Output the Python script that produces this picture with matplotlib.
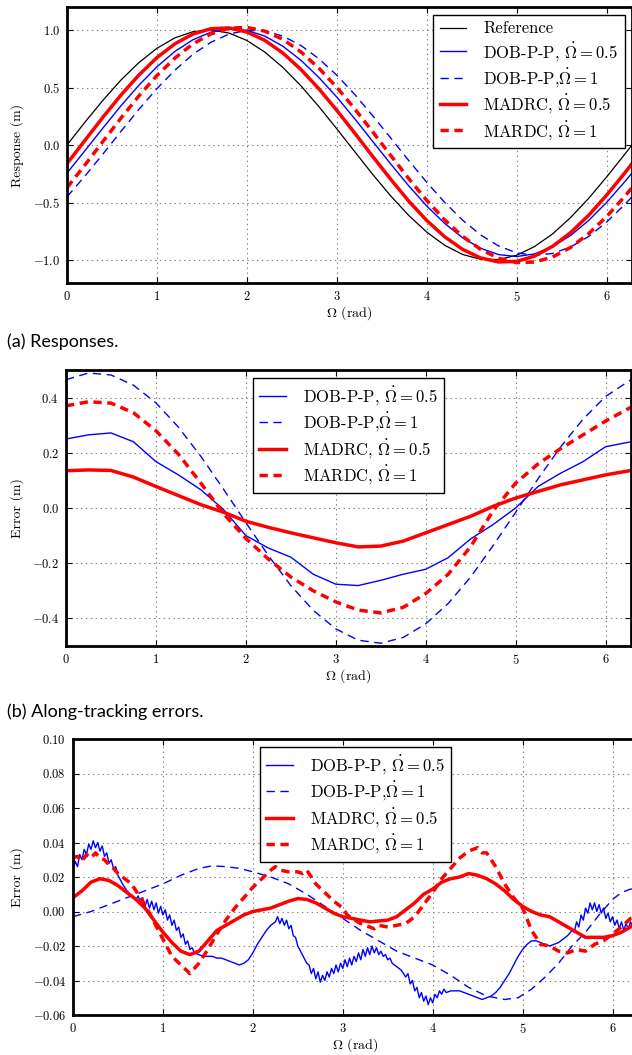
import numpy as np
import matplotlib
matplotlib.use("Agg")
import matplotlib.pyplot as plt

plt.rcParams["font.family"] = "serif"
plt.rcParams["font.serif"] = ["cmr10"]
plt.rcParams["mathtext.fontset"] = "cm"
plt.rcParams["axes.formatter.use_mathtext"] = True
plt.rcParams["lines.scale_dashes"] = False

# ---- (a) responses, sampled every 0.2 rad ----
omega_a = [0.0, 0.2, 0.4, 0.6, 0.8, 1.0, 1.2, 1.4, 1.6, 1.8, 2.0, 2.2, 2.4, 2.6, 2.8,
           3.0, 3.2, 3.4, 3.6, 3.8, 4.0, 4.2, 4.4, 4.6, 4.8, 5.0, 5.2, 5.4, 5.6, 5.8,
           6.0, 6.2, 6.283]
resp_ref = [0.000, 0.199, 0.389, 0.565, 0.717, 0.841, 0.932, 0.985, 1.000, 0.974,
            0.909, 0.808, 0.675, 0.516, 0.335, 0.141, -0.058, -0.256, -0.443, -0.612,
            -0.757, -0.872, -0.952, -0.994, -0.996, -0.959, -0.883, -0.773, -0.631,
            -0.465, -0.279, -0.083, 0.000]
resp_dob05 = [-0.244, -0.049, 0.148, 0.341, 0.520, 0.680, 0.814, 0.915, 0.981, 1.009,
              0.997, 0.947, 0.859, 0.738, 0.588, 0.417, 0.228, 0.031, -0.165, -0.355,
              -0.530, -0.682, -0.807, -0.898, -0.953, -0.970, -0.947, -0.885, -0.787,
              -0.657, -0.500, -0.322, -0.244]
resp_dob1 = [-0.450, -0.270, -0.078, 0.118, 0.310, 0.490, 0.651, 0.788, 0.893, 0.964,
             0.998, 0.992, 0.947, 0.866, 0.751, 0.607, 0.439, 0.254, 0.061, -0.135,
             -0.324, -0.499, -0.654, -0.782, -0.878, -0.938, -0.960, -0.943, -0.887,
             -0.796, -0.671, -0.520, -0.450]
resp_madrc05 = [-0.162, 0.041, 0.242, 0.434, 0.609, 0.760, 0.880, 0.965, 1.011, 1.018,
                0.983, 0.910, 0.800, 0.658, 0.490, 0.302, 0.103, -0.100, -0.298, -0.488,
                -0.656, -0.798, -0.908, -0.982, -1.017, -1.012, -0.966, -0.881, -0.762,
                -0.612, -0.437, -0.246, -0.162]
resp_madrc1 = [-0.371, -0.173, 0.031, 0.234, 0.427, 0.604, 0.756, 0.879, 0.966, 1.015,
               1.023, 0.990, 0.919, 0.810, 0.669, 0.502, 0.314, 0.114, -0.091, -0.292,
               -0.481, -0.651, -0.795, -0.908, -0.985, -1.022, -1.018, -0.974, -0.891,
               -0.772, -0.623, -0.449, -0.371]

# ---- (b) along-tracking errors, sampled every 0.25 rad ----
omega_b = [0.0, 0.25, 0.5, 0.75, 1.0, 1.25, 1.5, 1.75, 2.0, 2.25, 2.5, 2.75, 3.0,
           3.25, 3.5, 3.75, 4.0, 4.25, 4.5, 4.75, 5.0, 5.25, 5.5, 5.75, 6.0, 6.283]
along_dob05 = [0.250, 0.265, 0.272, 0.240, 0.168, 0.120, 0.066, -0.005, -0.100, -0.145,
               -0.178, -0.240, -0.276, -0.281, -0.262, -0.240, -0.222, -0.180, -0.112,
               -0.060, 0.000, 0.078, 0.126, 0.168, 0.222, 0.240]
along_dob1 = [0.465, 0.489, 0.482, 0.445, 0.381, 0.293, 0.187, 0.069, -0.053, -0.172,
              -0.281, -0.371, -0.438, -0.479, -0.490, -0.469, -0.420, -0.346, -0.250,
              -0.136, -0.016, 0.106, 0.221, 0.322, 0.404, 0.465]
along_madrc05 = [0.135, 0.138, 0.136, 0.112, 0.078, 0.045, 0.012, -0.015, -0.048, -0.070,
                 -0.090, -0.108, -0.126, -0.141, -0.138, -0.120, -0.090, -0.060, -0.030,
                 0.006, 0.036, 0.060, 0.084, 0.102, 0.120, 0.136]
along_madrc1 = [0.370, 0.385, 0.380, 0.345, 0.280, 0.195, 0.090, -0.020, -0.110, -0.185,
                -0.250, -0.300, -0.340, -0.370, -0.380, -0.360, -0.310, -0.240, -0.140,
                -0.010, 0.090, 0.160, 0.215, 0.265, 0.315, 0.365]

# ---- (c) cross-tracking errors, (omega, error) pairs ----
cross_dob05 = [
    (0.000, 0.024), (0.025, 0.029), (0.050, 0.026), (0.075, 0.033), (0.100, 0.030),
    (0.125, 0.036), (0.150, 0.033), (0.175, 0.039), (0.200, 0.036), (0.225, 0.041),
    (0.250, 0.037), (0.275, 0.040), (0.300, 0.035), (0.325, 0.038), (0.350, 0.032),
    (0.375, 0.034), (0.400, 0.028), (0.425, 0.030), (0.450, 0.025), (0.475, 0.026),
    (0.500, 0.021), (0.550, 0.016), (0.600, 0.012), (0.650, 0.009), (0.700, 0.007),
    (0.725, 0.009), (0.750, 0.005), (0.775, 0.008), (0.800, 0.003), (0.825, 0.007),
    (0.850, 0.002), (0.875, 0.006), (0.900, 0.001), (0.925, 0.005), (0.950, -0.001),
    (0.975, 0.003), (1.000, -0.002), (1.025, 0.001), (1.050, -0.005), (1.075, -0.002),
    (1.100, -0.008), (1.125, -0.005), (1.150, -0.011), (1.175, -0.009), (1.200, -0.015),
    (1.225, -0.013), (1.250, -0.019), (1.275, -0.017), (1.300, -0.022), (1.325, -0.021),
    (1.350, -0.024), (1.400, -0.025), (1.450, -0.026), (1.500, -0.026), (1.550, -0.026),
    (1.600, -0.027), (1.650, -0.027), (1.700, -0.028), (1.750, -0.029), (1.800, -0.030),
    (1.850, -0.031), (1.900, -0.030), (1.950, -0.028), (2.000, -0.024), (2.050, -0.019),
    (2.100, -0.015), (2.150, -0.011), (2.200, -0.008), (2.250, -0.006), (2.275, -0.003),
    (2.300, -0.007), (2.325, -0.004), (2.350, -0.008), (2.375, -0.005), (2.400, -0.010),
    (2.425, -0.008), (2.450, -0.014), (2.475, -0.015), (2.500, -0.020), (2.550, -0.025),
    (2.600, -0.030), (2.625, -0.031), (2.650, -0.036), (2.675, -0.033), (2.700, -0.039),
    (2.725, -0.035), (2.750, -0.041), (2.775, -0.037), (2.800, -0.040), (2.825, -0.035),
    (2.850, -0.038), (2.875, -0.033), (2.900, -0.036), (2.925, -0.031), (2.950, -0.035),
    (2.975, -0.030), (3.000, -0.033), (3.025, -0.028), (3.050, -0.032), (3.075, -0.027),
    (3.100, -0.031), (3.125, -0.026), (3.150, -0.029), (3.175, -0.024), (3.200, -0.028),
    (3.225, -0.022), (3.250, -0.026), (3.275, -0.021), (3.300, -0.025), (3.325, -0.020),
    (3.350, -0.024), (3.375, -0.021), (3.400, -0.025), (3.425, -0.023), (3.450, -0.026),
    (3.475, -0.025), (3.500, -0.028), (3.525, -0.027), (3.550, -0.030), (3.600, -0.032),
    (3.650, -0.034), (3.700, -0.038), (3.725, -0.036), (3.750, -0.042), (3.775, -0.040),
    (3.800, -0.046), (3.825, -0.044), (3.850, -0.050), (3.875, -0.047), (3.900, -0.052),
    (3.925, -0.049), (3.950, -0.054), (3.975, -0.050), (4.000, -0.053), (4.025, -0.048),
    (4.050, -0.050), (4.075, -0.046), (4.100, -0.048), (4.125, -0.045), (4.150, -0.047),
    (4.200, -0.046), (4.250, -0.046), (4.300, -0.046), (4.350, -0.047), (4.400, -0.048),
    (4.450, -0.049), (4.500, -0.050), (4.550, -0.051), (4.600, -0.050), (4.650, -0.049),
    (4.700, -0.047), (4.750, -0.044), (4.800, -0.040), (4.850, -0.036), (4.900, -0.031),
    (4.950, -0.026), (5.000, -0.022), (5.050, -0.019), (5.100, -0.017), (5.150, -0.017),
    (5.200, -0.018), (5.250, -0.019), (5.300, -0.020), (5.350, -0.019), (5.400, -0.018),
    (5.450, -0.016), (5.500, -0.014), (5.550, -0.011), (5.575, -0.012), (5.600, -0.006),
    (5.625, -0.009), (5.650, -0.002), (5.675, -0.005), (5.700, 0.002), (5.725, -0.001),
    (5.750, 0.005), (5.775, 0.001), (5.800, 0.005), (5.825, 0.000), (5.850, 0.004),
    (5.875, -0.001), (5.900, 0.002), (5.925, -0.004), (5.950, -0.001), (5.975, -0.006),
    (6.000, -0.003), (6.025, -0.008), (6.050, -0.005), (6.075, -0.010), (6.100, -0.006),
    (6.125, -0.011), (6.150, -0.007), (6.175, -0.010), (6.200, -0.006), (6.225, -0.009),
    (6.250, -0.006), (6.283, -0.008),
]
cross_dob1 = [
    (0.0, -0.003), (0.2, 0.000), (0.4, 0.004), (0.6, 0.008), (0.8, 0.012), (1.0, 0.016),
    (1.2, 0.021), (1.4, 0.025), (1.55, 0.0265), (1.7, 0.026), (1.85, 0.025), (2.0, 0.023),
    (2.2, 0.020), (2.4, 0.016), (2.6, 0.010), (2.8, 0.003), (3.0, -0.004), (3.2, -0.011),
    (3.4, -0.017), (3.6, -0.023), (3.8, -0.027), (4.0, -0.031), (4.2, -0.037),
    (4.4, -0.044), (4.6, -0.049), (4.8, -0.051), (4.95, -0.050), (5.1, -0.045),
    (5.25, -0.038), (5.4, -0.030), (5.55, -0.020), (5.7, -0.012), (5.85, -0.002),
    (6.0, 0.007), (6.1, 0.011), (6.2, 0.013), (6.283, 0.013),
]
cross_madrc05 = [
    (0.0, 0.008), (0.1, 0.012), (0.2, 0.017), (0.3, 0.019), (0.4, 0.018), (0.5, 0.015),
    (0.6, 0.011), (0.7, 0.007), (0.8, 0.002), (0.9, -0.005), (1.0, -0.012), (1.1, -0.018),
    (1.2, -0.023), (1.3, -0.025), (1.4, -0.023), (1.5, -0.017), (1.6, -0.011),
    (1.7, -0.008), (1.8, -0.005), (1.9, -0.002), (2.0, 0.000), (2.1, 0.001), (2.2, 0.002),
    (2.3, 0.004), (2.4, 0.006), (2.5, 0.0075), (2.6, 0.007), (2.7, 0.005), (2.8, 0.002),
    (2.9, -0.001), (3.0, -0.003), (3.1, -0.004), (3.2, -0.005), (3.3, -0.006),
    (3.4, -0.0055), (3.5, -0.005), (3.6, -0.003), (3.7, 0.001), (3.8, 0.005), (3.9, 0.010),
    (4.0, 0.013), (4.1, 0.017), (4.2, 0.019), (4.3, 0.020), (4.4, 0.022), (4.5, 0.021),
    (4.6, 0.019), (4.7, 0.016), (4.8, 0.012), (4.9, 0.007), (5.0, 0.003), (5.1, 0.000),
    (5.2, -0.002), (5.3, -0.003), (5.4, -0.006), (5.5, -0.009), (5.6, -0.012),
    (5.7, -0.015), (5.8, -0.015), (5.9, -0.015), (6.0, -0.014), (6.1, -0.012),
    (6.2, -0.009), (6.283, -0.006),
]
cross_madrc1 = [
    (0.0, 0.031), (0.05, 0.032), (0.1, 0.029), (0.15, 0.033), (0.2, 0.031), (0.25, 0.034),
    (0.3, 0.031), (0.35, 0.030), (0.4, 0.027), (0.45, 0.025), (0.5, 0.022), (0.55, 0.020),
    (0.6, 0.018), (0.65, 0.016), (0.7, 0.012), (0.8, 0.004), (0.9, -0.006), (1.0, -0.016),
    (1.1, -0.026), (1.2, -0.031), (1.3, -0.036), (1.4, -0.030), (1.5, -0.022),
    (1.6, -0.013), (1.7, -0.005), (1.8, 0.002), (1.9, 0.008), (2.0, 0.014), (2.1, 0.019),
    (2.2, 0.024), (2.25, 0.026), (2.3, 0.024), (2.4, 0.023), (2.5, 0.023), (2.55, 0.022),
    (2.6, 0.024), (2.65, 0.020), (2.7, 0.016), (2.8, 0.011), (2.9, 0.006), (2.95, 0.004),
    (3.0, 0.002), (3.05, -0.002), (3.1, -0.004), (3.2, -0.007), (3.3, -0.009),
    (3.35, -0.010), (3.4, -0.008), (3.5, -0.009), (3.6, -0.008), (3.7, -0.007),
    (3.8, -0.003), (3.9, 0.004), (4.0, 0.011), (4.1, 0.019), (4.2, 0.025), (4.3, 0.031),
    (4.4, 0.035), (4.5, 0.037), (4.55, 0.034), (4.6, 0.034), (4.7, 0.026), (4.8, 0.016),
    (4.9, 0.008), (5.0, 0.002), (5.1, -0.011), (5.2, -0.019), (5.3, -0.020),
    (5.4, -0.023), (5.5, -0.024), (5.6, -0.022), (5.7, -0.023), (5.8, -0.019),
    (5.9, -0.017), (6.0, -0.013), (6.1, -0.009), (6.2, -0.004), (6.283, -0.003),
]

labels = [r"DOB-P-P, $\dot{\Omega} = 0.5$", r"DOB-P-P,$\dot{\Omega} = 1$",
          r"MADRC, $\dot{\Omega} = 0.5$", r"MARDC, $\dot{\Omega} = 1$"]
styles = [dict(color="b", lw=1.0, ls="-"),
          dict(color="b", lw=1.0, ls=(0, (6, 4))),
          dict(color="r", lw=2.5, ls="-"),
          dict(color="r", lw=2.5, ls=(0, (6, 4)))]

W, H = 632, 1055
fig = plt.figure(figsize=(W / 100, H / 100), dpi=100)


def panel(left, top, width=565, height=276):
    ax = fig.add_axes([left / W, 1 - (top + height) / H, width / W, height / H])
    for sp in ax.spines.values():
        sp.set_linewidth(2.0)
    ax.tick_params(direction="in", top=True, right=True, length=4, width=0.8,
                   labelsize=9, pad=5)
    ax.grid(True, color="0.5", ls=(0, (1, 2.5)), lw=0.8)
    ax.set_axisbelow(True)
    ax.set_xlim(0, 2 * np.pi)
    ax.set_xticks([0, 1, 2, 3, 4, 5, 6])
    ax.set_xlabel(r"$\Omega$ (rad)", fontsize=10, labelpad=0)
    return ax


def legend(ax, loc):
    leg = ax.legend(loc=loc, fontsize=12, handlelength=1.6, handletextpad=1.0,
                    labelspacing=0.2, borderaxespad=0.45, fancybox=False,
                    framealpha=1.0, edgecolor="k")
    leg.get_frame().set_linewidth(1.0)


# (a) responses
ax1 = panel(67, 7)
ax1.plot(omega_a, resp_ref, color="k", lw=0.9, label="Reference")
for ys, lab, st in zip([resp_dob05, resp_dob1, resp_madrc05, resp_madrc1], labels, styles):
    ax1.plot(omega_a, ys, label=lab, **st)
ax1.set_ylim(-1.2, 1.2)
ax1.set_yticks([-1.0, -0.5, 0.0, 0.5, 1.0])
ax1.set_ylabel("Response (m)", fontsize=10)
ax1.yaxis.set_label_coords(-0.076, 0.5)
legend(ax1, "upper right")

# (b) along-tracking errors
ax2 = panel(66, 370)
for ys, lab, st in zip([along_dob05, along_dob1, along_madrc05, along_madrc1], labels, styles):
    ax2.plot(omega_b, ys, label=lab, **st)
ax2.set_ylim(-0.5, 0.5)
ax2.set_yticks([-0.4, -0.2, 0.0, 0.2, 0.4])
ax2.set_ylabel("Error (m)", fontsize=10)
ax2.yaxis.set_label_coords(-0.074, 0.5)
legend(ax2, "upper center")

# (c) cross-tracking errors
ax3 = panel(73, 739)
for pairs, lab, st in zip([cross_dob05, cross_dob1, cross_madrc05, cross_madrc1], labels, styles):
    xs, ys = zip(*pairs)
    ax3.plot(xs, ys, label=lab, **st)
ax3.set_ylim(-0.06, 0.10)
ax3.set_yticks([-0.06, -0.04, -0.02, 0.0, 0.02, 0.04, 0.06, 0.08, 0.10])
ax3.yaxis.set_major_formatter(plt.FuncFormatter(lambda v, p: r"$%.2f$" % v))
ax3.set_ylabel("Error (m)", fontsize=10)
ax3.yaxis.set_label_coords(-0.087, 0.5)
legend(ax3, "upper center")

fig.text(7 / W, 1 - 342 / H, "(a) Responses.", family="Lato", fontsize=13, va="center")
fig.text(7 / W, 1 - 712 / H, "(b) Along-tracking errors.", family="Lato", fontsize=13,
         va="center")

fig.savefig("out.png", dpi=100)
